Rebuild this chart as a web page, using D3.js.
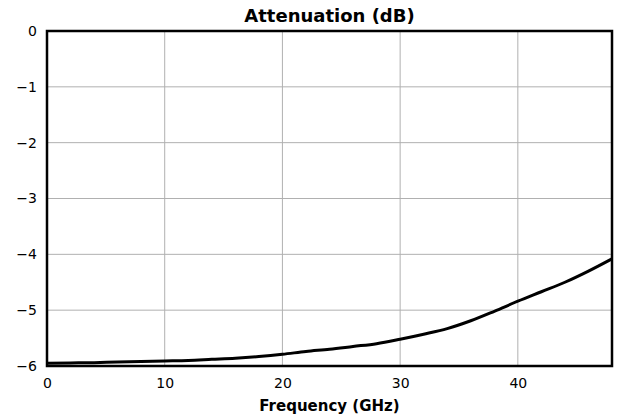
<!DOCTYPE html>
<html>
<head>
<meta charset="utf-8">
<script src="https://cdn.jsdelivr.net/npm/d3@7"></script>
<style>
  body { margin: 0; background: #fff; }
  text { font-family: "DejaVu Sans", sans-serif; }
</style>
</head>
<body>
<div id="plot"></div>
<script>
// measured attenuation vs frequency
var freq = [0, 2, 4, 6, 8, 10, 12, 14, 16, 18, 20, 22, 24, 26, 28, 30, 32, 34, 36, 38, 40, 42, 44, 46, 48];
var atten = [-5.95, -5.945, -5.94, -5.93, -5.92, -5.91, -5.90, -5.88, -5.86, -5.83, -5.79, -5.74, -5.70, -5.65, -5.60,
             -5.52, -5.43, -5.33, -5.19, -5.02, -4.84, -4.67, -4.50, -4.30, -4.08];
var xTicks = [0, 10, 20, 30, 40];
var yTicks = [0, -1, -2, -3, -4, -5, -6];

var margin = {top: 31, right: 5, bottom: 53, left: 47},
    width = 617 - margin.left - margin.right,
    height = 419 - margin.top - margin.bottom;

var svg = d3.select("div#plot")
  .append("svg")
    .attr("width", width + margin.left + margin.right)
    .attr("height", height + margin.top + margin.bottom)
  .append("g")
    .attr("transform", "translate(" + margin.left + "," + margin.top + ")");

var x = d3.scaleLinear().domain([0, 48]).range([0, width]);
var y = d3.scaleLinear().domain([-6, 0]).range([height, 0]);

// grid
svg.append("g")
  .selectAll("line.gx")
  .data(xTicks)
  .enter()
  .append("line")
    .attr("x1", d => x(d)).attr("x2", d => x(d))
    .attr("y1", 0).attr("y2", height)
    .style("stroke", "#b0b0b0").style("stroke-width", 1);

svg.append("g")
  .selectAll("line.gy")
  .data(yTicks)
  .enter()
  .append("line")
    .attr("x1", 0).attr("x2", width)
    .attr("y1", d => y(d)).attr("y2", d => y(d))
    .style("stroke", "#b0b0b0").style("stroke-width", 1);

// axes (labels only)
var xAxis = svg.append("g")
  .attr("transform", "translate(0," + height + ")")
  .call(d3.axisBottom(x).tickValues(xTicks).tickFormat(d3.format("d")).tickSize(0).tickPadding(12));
var yAxis = svg.append("g")
  .call(d3.axisLeft(y).tickValues(yTicks).tickFormat(d3.format("d")).tickSize(0).tickPadding(10));
[xAxis, yAxis].forEach(function(a) {
  a.select(".domain").remove();
  a.selectAll("text").style("font-size", "14px").style("fill", "#000").style("font-family", "DejaVu Sans");
});

// curve
var line = d3.line()
  .x((d, i) => x(freq[i]))
  .y(d => y(d))
  .curve(d3.curveMonotoneX);

svg.append("path")
  .datum(atten)
  .attr("d", line)
  .style("fill", "none")
  .style("stroke", "#000")
  .style("stroke-width", 3);

// frame
svg.append("rect")
  .attr("width", width).attr("height", height)
  .style("fill", "none").style("stroke", "#000").style("stroke-width", 2.5);

svg.append("text")
  .attr("x", width / 2)
  .attr("y", -9)
  .attr("text-anchor", "middle")
  .style("font-size", "18px")
  .style("font-weight", "bold")
  .text("Attenuation (dB)");

svg.append("text")
  .attr("x", width / 2)
  .attr("y", height + 45)
  .attr("text-anchor", "middle")
  .style("font-size", "15px")
  .style("font-weight", "bold")
  .text("Frequency (GHz)");
</script>
</body>
</html>
